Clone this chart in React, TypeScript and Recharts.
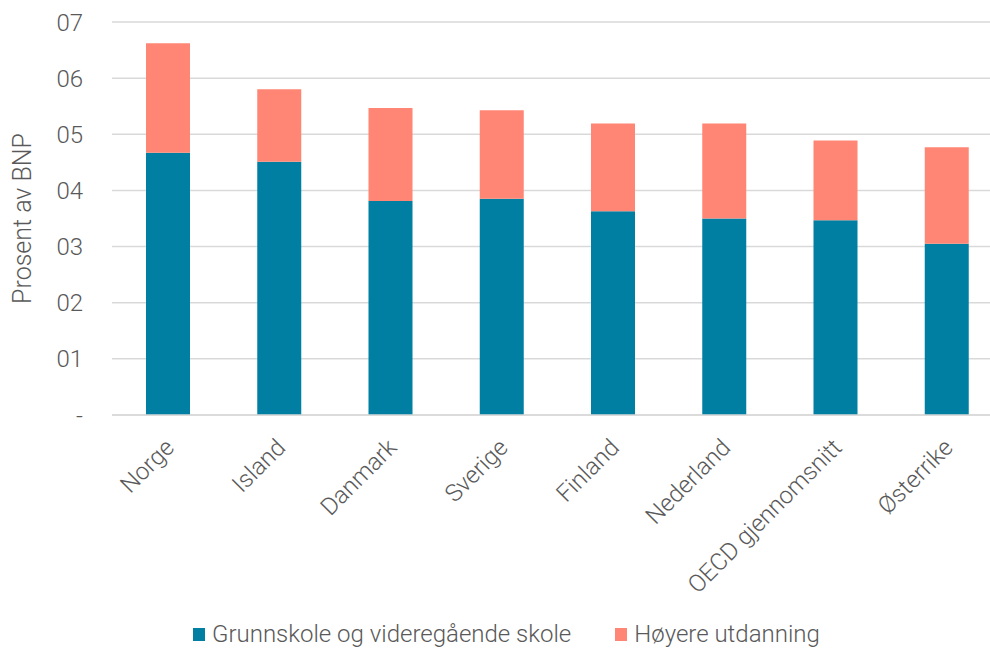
import React from 'react';
import { BarChart, Bar, XAxis, YAxis, CartesianGrid, Legend } from 'recharts';

const countries = ['Norge', 'Island', 'Danmark', 'Sverige', 'Finland', 'Nederland', 'OECD gjennomsnitt', 'Østerrike'];
const grunnskole = [4.67, 4.51, 3.81, 3.85, 3.63, 3.5, 3.47, 3.05];
const hoyere = [1.95, 1.29, 1.66, 1.58, 1.56, 1.69, 1.42, 1.72];
const yTicks = [0, 1, 2, 3, 4, 5, 6, 7];

const SERIES = [
  { key: 'grunnskole', name: 'Grunnskole og videregående skole', color: '#007FA3' },
  { key: 'hoyere', name: 'Høyere utdanning', color: '#FF8674' },
];

const data = countries.map((land, i) => ({ land, grunnskole: grunnskole[i], hoyere: hoyere[i] }));

const FONT = 'Roboto, sans-serif';
const TEXT = '#595959';

const CategoryTick = (props: any) => {
  const { x, y, payload } = props;
  const ax = x + 8;
  const ay = y + 26;
  return (
    <text x={ax} y={ay} transform={`rotate(-45, ${ax}, ${ay})`} textAnchor="end"
          fontFamily={FONT} fontWeight={300} fontSize={24} fill={TEXT}>
      {payload.value}
    </text>
  );
};

const AxisTitle = (props: any) => {
  const { viewBox } = props;
  const cy = viewBox.y + viewBox.height / 2;
  return (
    <text x={22} y={cy} transform={`rotate(-90, 22, ${cy})`} textAnchor="middle" dominantBaseline="central"
          fontFamily={FONT} fontWeight={300} fontSize={25} fill={TEXT}>
      Prosent av BNP
    </text>
  );
};

const LegendContent = () => (
  <div style={{ display: 'flex', height: 26, alignItems: 'center', paddingLeft: 193, fontFamily: FONT, fontWeight: 300, fontSize: 24, color: TEXT }}>
    {SERIES.map((s, i) => (
      <div key={s.key} style={{ display: 'flex', alignItems: 'center', marginRight: i === 0 ? 44 : 0 }}>
        <span style={{ display: 'inline-block', width: 12, height: 13, background: s.color, marginRight: 7 }} />
        <span>{s.name}</span>
      </div>
    ))}
  </div>
);

export default function App() {
  return (
    <div style={{ position: 'absolute', left: 0, top: 0, width: 990, height: 648, overflow: 'hidden', background: '#fff' }}>
      <BarChart width={1003} height={648} data={data} barSize={44}
                margin={{ top: 22, right: 1, left: 0, bottom: 1 }}>
        <CartesianGrid vertical={false} stroke="#D9D9D9" strokeWidth={1.5} />
        <XAxis dataKey="land" height={206} interval={0} tickLine={false}
               axisLine={{ stroke: '#D9D9D9', strokeWidth: 1.5 }} tick={<CategoryTick />} />
        <YAxis width={112} domain={[0, 7]} ticks={yTicks} interval={0} axisLine={false} tickLine={false}
               tickMargin={23} tickFormatter={(v: number) => (v === 0 ? '-' : '0' + v)}
               tick={{ fontFamily: FONT, fontWeight: 300, fontSize: 24, fill: TEXT }}
               label={<AxisTitle />} />
        <Legend verticalAlign="bottom" content={<LegendContent />} />
        {SERIES.map((s) => (
          <Bar key={s.key} dataKey={s.key} name={s.name} stackId="a" fill={s.color} isAnimationActive={false} />
        ))}
      </BarChart>
    </div>
  );
}
